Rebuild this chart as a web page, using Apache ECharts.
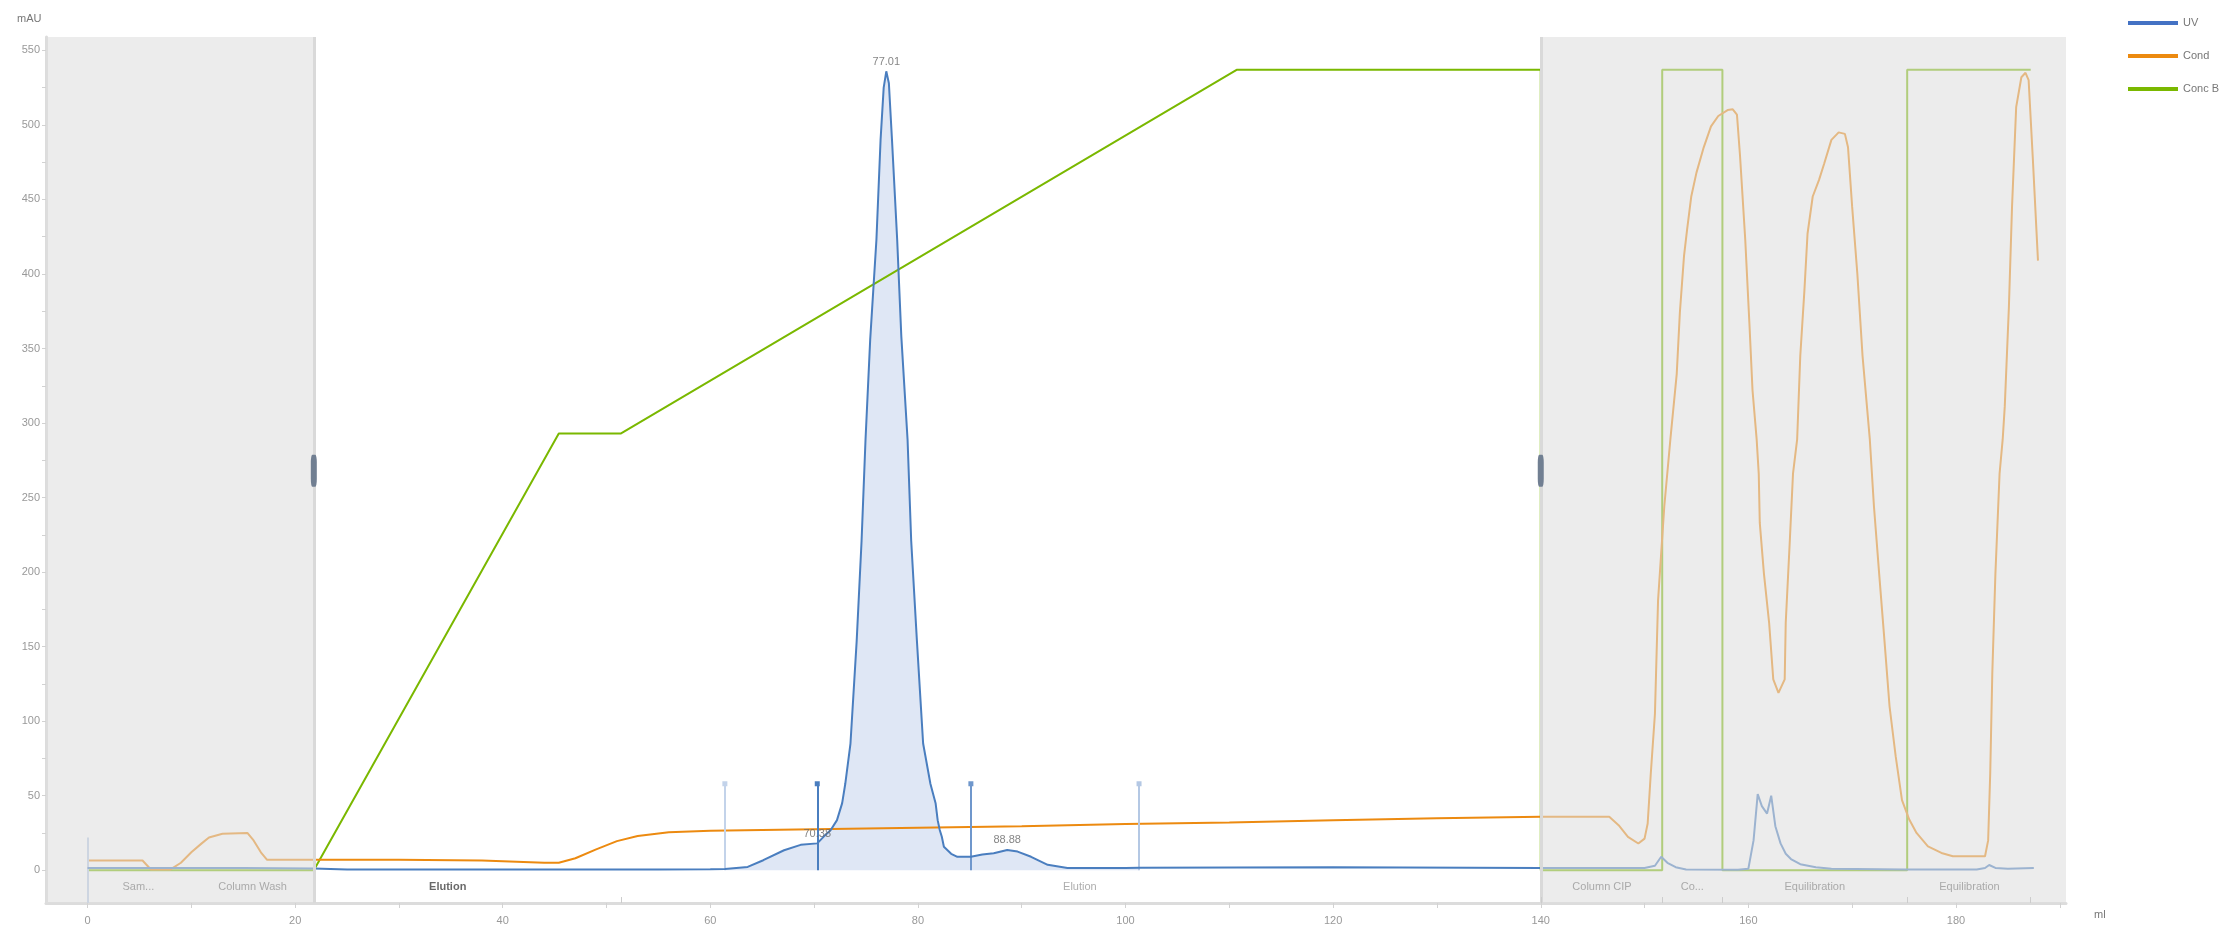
<!DOCTYPE html>
<html>
<head>
<meta charset="utf-8">
<script src="https://cdn.jsdelivr.net/npm/echarts/dist/echarts.min.js"></script>
<style>
html,body{margin:0;padding:0;background:#fff;}
#chart{width:2226px;height:933px;}
</style>
</head>
<body>
<div id="chart"></div>
<script>
// ---- Data (ml, value) ----
const uvPoints = [
  [0,1.5],[5,1.5],[10,1.5],[15,1.5],[21.8,1.2],[25,0.5],[40,0.5],[55,0.5],[60,0.6],
  [61.4,0.8],[63.6,2.2],[65.1,6.7],[67.1,13.4],[68.7,17],[70.3,18],[70.9,22.4],[71.6,27],
  [72.2,33.6],[72.7,45],[73.0,58],[73.5,85],[74.1,154],[74.57,221],[74.95,289],[75.4,356],
  [76.0,423],[76.4,490],[76.7,525],[76.95,536],[77.2,528],[77.5,490],[78.0,423],[78.4,358],
  [79.0,289],[79.35,221],[79.9,154],[80.5,85],[81.2,58],[81.7,45],[81.9,33.6],[82.1,27],
  [82.3,22.4],[82.5,15.7],[83.2,11],[83.8,9],[85.1,9],[86.2,10.5],[87.3,11.4],[88.6,13.6],
  [89.6,12.5],[90.9,9],[92.5,3.6],[94.4,1.5],[100,1.5],[101.3,1.6],[120,2],[140,1.5],
  [150,1.5],[151,3],[151.6,9],[152.2,5],[153,2],[154,0.5],[159,0.3],[160,1],[160.5,20],
  [160.9,51],[161.3,43],[161.8,38],[162.2,50],[162.6,29.5],[163.1,18],[163.6,11],[164.1,7.5],
  [165,4],[166.5,2],[168,1],[175,0.5],[182,0.5],[182.8,1.5],[183.2,3.5],[183.8,1.5],
  [185,1],[187.5,1.5]
];
const condPoints = [
  [0,6.5],[5.3,6.5],[6.1,0.5],[8,0.5],[9,5],[10,12],[11,18],[11.7,22],[13,24.5],[15.4,25],
  [16,20],[16.7,12],[17.3,7],[21.8,7],[30,7],[38,6.5],[44,5],[45.4,5],[47,8],[49,14],
  [51,19.5],[53,23],[56,25.5],[60,26.5],[70,27.5],[80,28.5],[90,29.5],[100,31],[110,32],
  [120,33.5],[130,34.8],[140,35.8],[146.6,35.8],[147.5,30.2],[148.4,22.4],[149.4,17.9],
  [150,21.2],[150.3,31.3],[150.6,64.9],[151,105],[151.3,181],[151.9,244],[152.5,290],
  [153.1,333],[153.4,374],[153.8,412],[154.1,430],[154.5,452],[155,468],[155.7,485],
  [156.4,499],[157.1,506],[158,510],[158.5,510.5],[158.9,507],[159.2,479],[159.7,423],
  [160.1,367],[160.4,322],[160.8,289],[161,266],[161.1,233],[161.5,199],[162,166],
  [162.4,128],[162.9,119],[163.5,128],[163.6,166],[164,222],[164.3,266],[164.7,289],
  [165,345],[165.4,389],[165.7,427],[166.2,452],[166.8,463],[167.3,474],[168,490],
  [168.7,495],[169.3,494],[169.6,485],[170,445],[170.5,400],[171,345],[171.7,289],
  [172.1,244],[172.6,199],[173.1,155],[173.6,110],[174.2,76],[174.8,47],[175.5,34],
  [176.2,25],[177.3,16],[178.6,11.6],[179.7,9.4],[182.8,9.4],[183.1,20],[183.3,65],
  [183.5,132],[183.8,199],[184.2,266],[184.5,289],[184.7,311],[185.1,378],[185.4,445],
  [185.8,512],[186.3,532],[186.7,535],[187,530],[187.4,478],[187.9,409]
];
const concBPoints = [
  [0,0],[21.8,0],[45.4,293],[51.4,293],[110.7,537],[140,537],[140,0],[151.7,0],[151.7,537],
  [157.5,537],[157.5,0],[175.3,0],[175.3,537],[187.2,537]
];
const peakLabels = ['70.38','77.01','88.88'];
const peakX = [70.3,76.95,88.6];
const peakY = [18,536,13.6];
const fractionX = [61.4,70.3,85.1,101.3];
const fractionTop = 58;
const phaseNames = ['Sam...','Column Wash','Elution','Elution','Column CIP','Co...','Equilibration','Equilibration'];
const phaseCenters = [4.9,15.9,34.7,95.6,145.9,154.6,166.4,181.3];
const phaseBoundaries = [51.4,140,151.7,157.5,175.3,187.2];
const shadedRanges = [[-4,21.8],[140,190.6]];
const handleX = [21.8,140];
const xTicks = [0,10,20,30,40,50,60,70,80,90,100,110,120,130,140,150,160,170,180,190];
const xLabels = [0,20,40,60,80,100,120,140,160,180];
const yTicks = [0,25,50,75,100,125,150,175,200,225,250,275,300,325,350,375,400,425,450,475,500,525,550];
const yLabels = [0,50,100,150,200,250,300,350,400,450,500,550];

const X_MIN = -4, X_MAX = 190.6, Y_MIN = -22, Y_MAX = 559;
const PHASE_Y = -11.4, HANDLE_Y = 268;

const C_UV = '#4a7ebf', C_COND = '#ec8a10', C_CONC = '#7ab800';
const fracColors = ['#c3d3ea','#4a7ebf','#6f97cc','#b4c8e4'];

const uvPeakArea = uvPoints.filter(p => p[0] >= fractionX[0] && p[0] <= fractionX[fractionX.length-1]);

const chart = echarts.init(document.getElementById('chart'), null, {renderer:'canvas'});
const option = {
  animation: false,
  backgroundColor: '#ffffff',
  textStyle: {fontFamily: 'Liberation Sans, Arial, sans-serif'},
  grid: {left: 46, right: 160, top: 37, bottom: 30, containLabel: false},
  legend: {
    orient: 'vertical', left: 2123, top: 11,
    itemWidth: 50, itemHeight: 4, itemGap: 19, icon: 'rect',
    textStyle: {color: '#777', fontSize: 11, lineHeight: 14},
    data: ['UV','Cond','Conc B']
  },
  xAxis: {
    type: 'value', min: X_MIN, max: X_MAX,
    axisLine: {show: true, onZero: false, lineStyle: {color: '#dcdcdc', width: 3}},
    axisTick: {show: true, customValues: xTicks, length: 5, lineStyle: {color: '#d2d2d2'}},
    axisLabel: {customValues: xLabels, color: '#999', fontSize: 11, margin: 12},
    splitLine: {show: false}
  },
  yAxis: {
    type: 'value', min: Y_MIN, max: Y_MAX,
    axisLine: {show: true, onZero: false, lineStyle: {color: '#dcdcdc', width: 3}},
    axisTick: {show: true, customValues: yTicks, length: 4, lineStyle: {color: '#d2d2d2'}},
    axisLabel: {customValues: yLabels, color: '#999', fontSize: 11, margin: 6},
    splitLine: {show: false}
  },
  graphic: [
    {type: 'text', left: 17, top: 13, style: {text: 'mAU', fill: '#777', font: '11px Liberation Sans, Arial, sans-serif'}},
    {type: 'text', left: 2094, top: 909, style: {text: 'ml', fill: '#777', font: '11px Liberation Sans, Arial, sans-serif'}}
  ],
  series: [
    {
      name: 'UV area', type: 'line', data: uvPeakArea, showSymbol: false, z: 1,
      lineStyle: {width: 0, opacity: 0}, areaStyle: {color: 'rgba(68,114,196,0.24)'},
      silent: true, legendHoverLink: false
    },
    {
      name: 'Conc B', type: 'line', data: concBPoints, showSymbol: false, z: 2,
      color: C_CONC, lineStyle: {color: C_CONC, width: 2}
    },
    {
      name: 'Cond', type: 'line', data: condPoints, showSymbol: false, z: 3,
      color: C_COND, lineStyle: {color: C_COND, width: 2}
    },
    {
      name: 'UV', type: 'line', data: uvPoints, showSymbol: false, z: 4,
      color: '#4472c4', lineStyle: {color: C_UV, width: 2},
      markLine: {
        silent: true, animation: false, label: {show: false}, z: 4,
        data: [
          [{coord: [0, Y_MIN], symbol: 'none', lineStyle: {color: '#b8cbe6', width: 2, type: 'solid'}},
           {coord: [0, 22], symbol: 'none'}]
        ].concat(fractionX.map((x, i) => [
          {coord: [x, 0], symbol: 'none', lineStyle: {color: fracColors[i], width: 2, type: 'solid'}},
          {coord: [x, fractionTop], symbol: 'rect', symbolSize: 5}
        ]))
      }
    },
    {
      name: 'overlay', type: 'line', data: [[X_MIN, null]], showSymbol: false, z: 10,
      lineStyle: {opacity: 0}, silent: true,
      markArea: {
        silent: true, z: 10,
        itemStyle: {color: 'rgba(222,222,222,0.56)'},
        data: shadedRanges.map(r => [{xAxis: r[0]}, {xAxis: r[1]}])
      },
      markLine: {
        silent: true, symbol: 'none', label: {show: false}, z: 11,
        data: handleX.map(x => ({xAxis: x, lineStyle: {color: '#d9d9d9', width: 3, type: 'solid'}}))
          .concat(phaseBoundaries.map(x => [
            {coord: [x, Y_MIN], lineStyle: {color: '#cccccc', width: 1, type: 'solid'}},
            {coord: [x, Y_MIN + 4]}
          ]))
      },
      markPoint: {
        silent: true, z: 12,
        data: handleX.map(x => ({coord: [x, HANDLE_Y], symbol: 'roundRect', symbolSize: [6, 32],
          itemStyle: {color: '#717f92'}, label: {show: false}}))
      }
    },
    {
      name: 'phases', type: 'scatter', z: 20, symbolSize: 0, silent: true,
      data: phaseNames.map((n, i) => ({
        value: [phaseCenters[i], PHASE_Y], name: n,
        label: i === 2 ? {color: '#444', fontWeight: 'bold'} : {}
      })),
      label: {show: true, position: 'inside', formatter: p => p.name, color: '#999', fontSize: 11}
    },
    {
      name: 'peaks', type: 'scatter', z: 20, symbolSize: 0, silent: true,
      data: peakLabels.map((t, i) => ({value: [peakX[i], peakY[i]], name: t})),
      label: {show: true, position: 'top', distance: 4, formatter: p => p.name, color: '#666', fontSize: 11}
    }
  ]
};
chart.setOption(option);
</script>
</body>
</html>
